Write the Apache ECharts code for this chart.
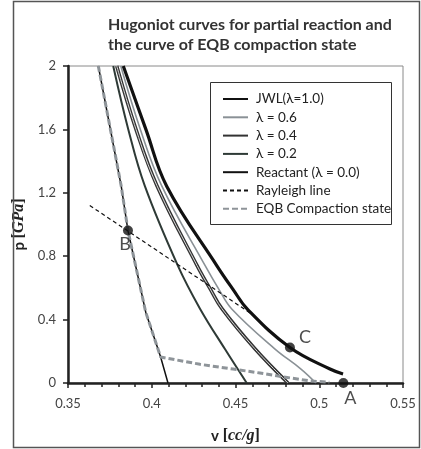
<!DOCTYPE html>
<html><head><meta charset="utf-8">
<script src="https://cdn.jsdelivr.net/npm/echarts@6/dist/echarts.min.js"></script>
<style>html,body{margin:0;padding:0;background:#fff}#c{width:421px;height:449px}</style>
</head><body><div id="c"></div>
<script>
// ---- data: [v (cc/g), p (GPa)] ----
const jwl = [[0.383,2],[0.3965,1.6],[0.409,1.24],[0.439,0.738],[0.4485,0.591],[0.4572,0.465],[0.4825,0.224],[0.5064,0.088],[0.5142,0.057]];
const lam06 = [[0.3815,2],[0.3932,1.6],[0.4059,1.245],[0.4318,0.742],[0.4401,0.591],[0.4479,0.465],[0.4736,0.214],[0.4891,0.088],[0.498,0]];
const lam04 = [[0.3791,2],[0.3906,1.6],[0.4031,1.245],[0.427,0.742],[0.4348,0.595],[0.4419,0.469],[0.4616,0.216],[0.4813,0]];
const lam02 = [[0.377,2],[0.386,1.6],[0.3958,1.245],[0.4155,0.742],[0.4288,0.469],[0.4437,0.214],[0.4567,0]];
const reactant = [[0.3681,2],[0.3818,1.241],[0.3858,0.962],[0.3964,0.447],[0.4053,0.164],[0.4097,0]];
const rayleigh = [[0.363,1.12],[0.459,0.44]];
const eqb = [[0.3681,2],[0.3818,1.241],[0.3858,0.962],[0.3964,0.447],[0.4053,0.164],[0.4288,0.118],[0.4485,0.088],[0.4646,0.063],[0.4764,0.042],[0.494,0.014],[0.506,0.004]];
const pointNames = ['A','B','C'];
const pointValues = [[0.5144,0],[0.3858,0.962],[0.4825,0.224]];
const legendNames = ['JWL(λ=1.0)','λ = 0.6','λ = 0.4','λ = 0.2','Reactant (λ = 0.0)','Rayleigh line','EQB Compaction state'];
const titleText = 'Hugoniot curves for partial reaction and\nthe curve of EQB compaction state';

const FONT = "Lato, 'Open Sans', sans-serif";
const chart = echarts.init(document.getElementById('c'), null, {renderer:'canvas'});
const labelOffsets = {A:[7,15], B:[-3,14], C:[15,-10]};
function line(name, data, color, width, type, opts) {
  return Object.assign({
    name, type:'line', data, symbol:'none', showSymbol:false, silent:true, animation:false,
    lineStyle:{color, width, type:type||'solid'}, itemStyle:{color}
  }, opts||{});
}
const SM = {smooth:0.4};
chart.setOption({
  animation:false,
  backgroundColor:'#fff',
  title:{text:titleText, left:108, top:15, padding:0,
    textStyle:{fontFamily:FONT, fontWeight:'bold', fontSize:16, lineHeight:20, color:'#333'}},
  grid:{left:68, right:18, top:66, bottom:65, show:true, borderColor:'#8a8a8a', borderWidth:1},
  legend:{data:legendNames, orient:'vertical', left:210, top:82, padding:[10,10,9,12],
    itemWidth:25, itemHeight:14, itemGap:4.3,
    itemStyle:{opacity:0},
    textStyle:{fontFamily:FONT, fontSize:13.5, color:'#222', padding:[0,0,0,3]}},
  graphic:[
    {type:'rect', shape:{x:210.5,y:82.5,width:181,height:142}, style:{fill:'none', stroke:'#333', lineWidth:1}, z:100},
    {type:'rect', shape:{x:13.5,y:1.5,width:406,height:446}, style:{fill:'none', stroke:'#555', lineWidth:1.5}, z:100}
  ],
  xAxis:{type:'value', min:0.35, max:0.55, interval:0.05,
    name:'{a|v }{b|[}{c|cc/g}{b|]}', nameLocation:'middle', nameGap:45,
    nameTextStyle:{rich:{
      a:{fontFamily:FONT, fontWeight:'bold', fontSize:15, color:'#222'},
      b:{fontFamily:"'Liberation Serif', serif", fontWeight:'bold', fontSize:16, color:'#222'},
      c:{fontFamily:"'Liberation Serif', serif", fontWeight:'bold', fontStyle:'italic', fontSize:16, color:'#222'}}},
    axisLine:{show:true, onZero:false, lineStyle:{color:'#222', width:2.5}},
    axisTick:{show:true, length:5, lineStyle:{color:'#222', width:1.5}},
    minorTick:{show:true, splitNumber:5, length:4, lineStyle:{color:'#222', width:1.5}},
    splitLine:{show:false},
    axisLabel:{margin:14, fontFamily:FONT, fontSize:13, color:'#444'}},
  yAxis:{type:'value', min:0, max:2, interval:0.4,
    name:'{a|p }{b|[}{c|GPa}{b|]}', nameLocation:'middle', nameGap:35, nameRotate:90,
    nameTextStyle:{rich:{
      a:{fontFamily:FONT, fontWeight:'bold', fontSize:15, color:'#222'},
      b:{fontFamily:"'Liberation Serif', serif", fontWeight:'bold', fontSize:16, color:'#222'},
      c:{fontFamily:"'Liberation Serif', serif", fontWeight:'bold', fontStyle:'italic', fontSize:16, color:'#222'}}},
    axisLine:{show:true, onZero:false, lineStyle:{color:'#222', width:2.5}},
    axisTick:{show:true, length:5, lineStyle:{color:'#222', width:1.5}},
    splitLine:{show:false},
    axisLabel:{margin:12, fontFamily:FONT, fontSize:13, color:'#444'}},
  series:[
    line(legendNames[3], lam02, '#2e3a36', 2, null, SM),
    line(legendNames[2], lam04, '#333', 3.5, null, SM),
    line('_inner04', lam04, '#d8d8d8', 1, null, SM),
    line(legendNames[1], lam06, '#8a9196', 1.6, null, SM),
    line(legendNames[0], jwl, '#111', 3.2, null, SM),
    line(legendNames[4], reactant, '#111', 1.5),
    line(legendNames[6], eqb, '#8e9499', 3, [6,3]),
    line(legendNames[5], rayleigh, '#111', 1.2, [4,3]),
    {type:'scatter', silent:true, symbolSize:10, itemStyle:{color:'#111'}, z:10,
      data: pointNames.map((n,i)=>({value:pointValues[i], name:n,
        label:{show:true, formatter:n, position:'inside', offset:labelOffsets[n],
          fontFamily:FONT, fontSize:18, color:'#222'}}))}
  ]
});
</script></body></html>
